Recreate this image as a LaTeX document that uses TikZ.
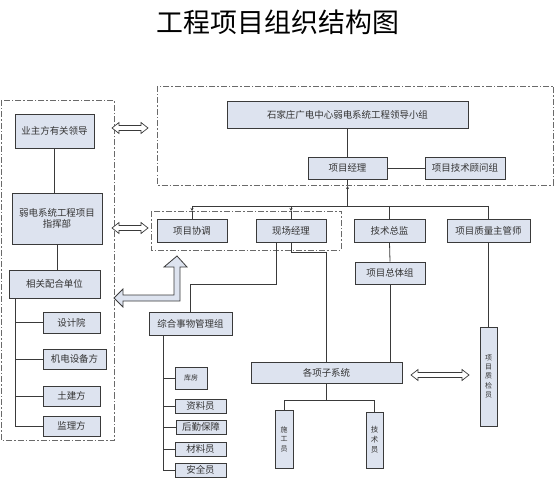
\documentclass[tikz,border=0pt]{standalone}
\usepackage{fontspec}
\newfontfamily\cjk{Noto Sans CJK SC}
\usetikzlibrary{arrows.meta}
\definecolor{boxfill}{HTML}{DDE3EF}
\definecolor{boxline}{HTML}{3A3A3A}
\definecolor{dashc}{HTML}{6A6A6A}
\definecolor{txt}{HTML}{333333}
\newcommand\dblarr[3]{%
\draw[hollow] (#1,#3) -- ++(7,-5.5) -- ++(0,3) -- ({#2-7},{#3-2.5}) -- ++(0,-3) -- (#2,#3) -- ({#2-7},{#3+5.5}) -- ++(0,-3) -- ({#1+7},{#3+2.5}) -- ++(0,3) -- cycle;}
\begin{document}
\begin{tikzpicture}[x=1bp,y=-1bp,
 box/.style={draw=boxline, fill=boxfill, line width=0.9bp, inner sep=0pt, font=\cjk\fontsize{9.5}{11.5}\selectfont, text=txt, align=center},
 vbox/.style={box, font=\cjk\fontsize{7}{9.5}\selectfont},
 grp/.style={draw=dashc, line width=0.8bp, dash pattern=on 6bp off 2bp on 1.5bp off 2bp},
 conn/.style={draw=boxline, line width=0.8bp},
 hollow/.style={draw=boxline, fill=white, line width=0.7bp},
 block/.style={draw=boxline, fill=boxfill, line width=0.8bp},
 tipup/.style={-{Stealth[length=3bp,width=3bp]}}
]
\useasboundingbox (0,0) rectangle (554,478);

\node[font=\cjk\fontsize{27}{30}\selectfont, text=black] (title) at (278,22) {工程项目组织结构图};

% group frames
\draw[grp] (1,100) rectangle (114,440);
\draw[grp] (157,86) rectangle (553,185);
\draw[grp] (151,211) rectangle (341,250);
\coordinate (topB) at (0,185);
\coordinate (midT) at (0,211);

% left column
\node[box, minimum width=79bp, minimum height=34bp] (owner) at (54.5,131) {业主方有关领导};
\node[box, minimum width=90bp, minimum height=51bp] (cmd) at (57,218.5) {弱电系统工程项目\\指挥部};
\node[box, minimum width=91bp, minimum height=28bp] (coop) at (54.5,284) {相关配合单位};
\node[box, minimum width=57bp, minimum height=21bp] (design) at (71.5,322.5) {设计院};
\node[box, minimum width=63bp, minimum height=20bp] (mech) at (74.5,359) {机电设备方};
\node[box, minimum width=57bp, minimum height=20bp] (civil) at (71.5,396) {土建方};
\node[box, minimum width=57bp, minimum height=20bp] (super) at (71.5,426) {监理方};

% top
\node[box, minimum width=241bp, minimum height=27bp] (lead) at (347.5,114.5) {石家庄广电中心弱电系统工程领导小组};
\node[box, minimum width=79bp, minimum height=22bp] (pm) at (347.5,168) {项目经理};
\node[box, minimum width=80bp, minimum height=22bp] (adv) at (465,168) {项目技术顾问组};

% second level
\node[box, minimum width=70bp, minimum height=23bp] (coord) at (192,230.5) {项目协调};
\node[box, minimum width=70bp, minimum height=23bp] (site) at (291,230.5) {现场经理};
\node[box, minimum width=71bp, minimum height=23bp] (tech) at (389.5,230.5) {技术总监};
\node[box, minimum width=83bp, minimum height=23bp] (qual) at (488.5,230.5) {项目质量主管师};
\node[box, minimum width=70bp, minimum height=22bp] (overall) at (390,273) {项目总体组};

% admin group
\node[box, minimum width=83bp, minimum height=23bp] (admin) at (190.5,323.5) {综合事物管理组};
\node[box, font=\cjk\fontsize{7}{9}\selectfont, minimum width=32bp, minimum height=22bp] (store) at (191,378) {库房};
\node[box, minimum width=51bp, minimum height=14bp] (docs) at (200.5,406) {资料员};
\node[box, minimum width=50bp, minimum height=14bp] (logi) at (201,427) {后勤保障};
\node[box, minimum width=51bp, minimum height=14bp] (mat) at (200.5,449) {材料员};
\node[box, minimum width=51bp, minimum height=14bp] (safe) at (200.5,470) {安全员};

% subsystems
\node[box, minimum width=151bp, minimum height=21bp] (subs) at (326.5,372.5) {各项子系统};
\node[vbox, minimum width=18bp, minimum height=58bp] (worker) at (284,439) {施\\工\\员};
\node[vbox, font=\cjk\fontsize{7.5}{10}\selectfont, minimum width=17bp, minimum height=56bp] (techn) at (374.5,440) {技\\术\\员};
\node[vbox, minimum width=17bp, minimum height=99bp] (qc) at (488.5,376.5) {项\\目\\质\\检\\员};

% connectors left
\draw[conn] (owner.south) -- (owner.south |- cmd.north);
\draw[conn] (cmd.south) -- (cmd.south |- coop.north);
\coordinate (lt) at (15,298);
\draw[conn] (lt) -- (lt |- super.west);
\foreach \n in {design,mech,civil,super} \draw[conn] (lt |- \n.west) -- (\n.west);

% connectors top
\draw[conn] (lead.south) -- (pm.north);
\draw[conn] (pm.east) -- (adv.west);
\coordinate (barL) at (192,206);
\coordinate (barR) at (488.5,206);
\draw[conn] (pm.south) -- (pm.south |- topB);
\draw[conn, tipup] (pm.south |- barL) -- ([yshift=-1bp]pm.south |- topB);
\draw[conn] (barL) -- (barR);
\draw[conn, tipup] (barL) -- (coord.north |- midT);
\draw[conn] (coord.north |- midT) -- (coord.north);
\draw[conn, tipup] (site.north |- barL) -- (site.north |- midT);
\draw[conn] (site.north |- midT) -- (site.north);
\draw[conn] (tech.north |- barL) -- (tech.north);
\draw[conn] (barR) -- (qual.north);
\draw[conn] (tech.south) -- (overall.north);
\draw[conn] (overall.south) -- (overall.south |- subs.north);
\draw[conn] (qual.south) -- (qc.north);

% from site manager
\draw[conn] ([xshift=-15bp]site.south) -- ++(0,42) -| (admin.north);
\draw[conn] (site.south) -- ++(0,10) -| (subs.north);

% admin tree
\coordinate (at) at (163,335);
\draw[conn] (at) -- (at |- safe.west);
\foreach \n in {store,docs,logi,mat,safe} \draw[conn] (at |- \n.west) -- (\n.west);

% subsystem tree
\draw[conn] (subs.south) -- ++(0,17) coordinate (sb);
\draw[conn] (worker.north) |- (sb) -| (techn.north);

% hollow double arrows
\dblarr{112}{148}{128}
\dblarr{112}{148}{228}
\dblarr{411}{469}{375}

% L-shaped block arrow
\draw[block] (177,256) -- (187,267) -- (180,267) -- (180,301) -- (123,301) -- (123,307) -- (114,298) -- (123,289) -- (123,295) -- (174,295) -- (174,267) -- (164,267) -- cycle;
\end{tikzpicture}
\end{document}
